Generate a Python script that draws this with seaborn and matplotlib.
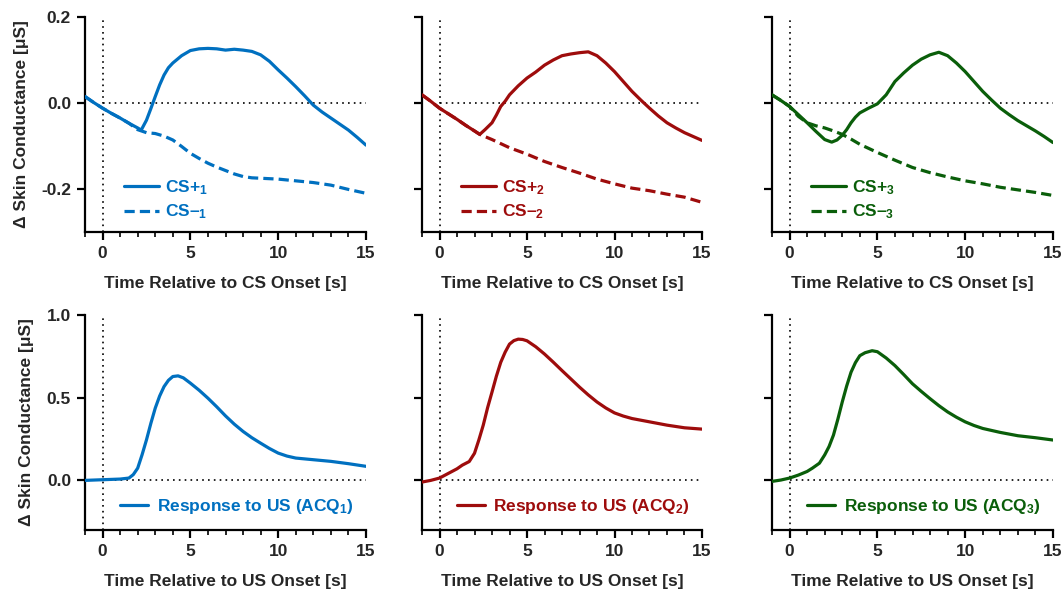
import numpy as np
import pandas as pd
import matplotlib
matplotlib.use("Agg")
import matplotlib.pyplot as plt
from matplotlib.ticker import MultipleLocator
import seaborn as sns

# ---------------- data ----------------
cs_plus1_x = [-1, -0.5, 0, 0.5, 1, 1.5, 2, 2.2, 2.5, 2.75, 3, 3.25, 3.5, 3.75, 4, 4.5, 5, 5.5, 6, 6.5,
              7, 7.5, 8, 8.5, 9, 9.5, 10, 10.5, 11, 11.5, 12, 12.5, 13, 13.5, 14, 14.5, 15]
cs_plus1_y = [0.015, 0.001, -0.012, -0.024, -0.035, -0.047, -0.058, -0.063, -0.040, -0.013,
              0.015, 0.042, 0.065, 0.082, 0.093, 0.110, 0.122, 0.126, 0.127, 0.126,
              0.123, 0.125, 0.123, 0.120, 0.112, 0.097, 0.077, 0.058, 0.038, 0.017,
              -0.005, -0.021, -0.035, -0.049, -0.063, -0.080, -0.098]
cs_minus1_x = [-1, -0.5, 0, 0.5, 1, 1.5, 2, 2.5, 3, 3.5, 4, 4.5, 5, 5.5, 6, 6.5, 7, 7.5, 8, 8.5,
               9, 10, 11, 12, 13, 14, 15]
cs_minus1_y = [0.015, 0.001, -0.012, -0.024, -0.035, -0.047, -0.062, -0.069, -0.071, -0.077,
               -0.086, -0.101, -0.117, -0.129, -0.140, -0.149, -0.157, -0.165, -0.171, -0.174,
               -0.175, -0.177, -0.181, -0.185, -0.191, -0.201, -0.210]

cs_plus2_x = [-1, -0.5, 0, 0.5, 1, 1.5, 2, 2.3, 2.6, 3, 3.25, 3.5, 3.75, 4, 4.5, 5, 5.5, 6, 6.5, 7,
              7.5, 8, 8.5, 9, 9.5, 10, 10.5, 11, 11.5, 12, 12.5, 13, 13.5, 14, 14.5, 15]
cs_plus2_y = [0.019, 0.004, -0.012, -0.025, -0.038, -0.052, -0.065, -0.073, -0.062, -0.046,
              -0.028, -0.008, 0.004, 0.019, 0.040, 0.058, 0.072, 0.088, 0.100, 0.110,
              0.114, 0.117, 0.119, 0.110, 0.093, 0.073, 0.050, 0.027, 0.007, -0.012,
              -0.030, -0.046, -0.058, -0.069, -0.078, -0.087]
cs_minus2_x = [-1, -0.5, 0, 0.5, 1, 1.5, 2, 2.3, 3, 4, 5, 6, 7, 8, 9, 10, 11, 12, 13, 14, 15]
cs_minus2_y = [0.019, 0.004, -0.012, -0.025, -0.038, -0.052, -0.065, -0.073, -0.085, -0.104,
               -0.119, -0.136, -0.150, -0.163, -0.177, -0.188, -0.198, -0.204, -0.212, -0.219, -0.231]

cs_plus3_x = [-1, -0.5, 0, 0.5, 1, 1.5, 2, 2.4, 2.7, 3, 3.25, 3.5, 3.75, 4, 4.5, 5, 5.5, 6, 6.5, 7,
              7.5, 8, 8.5, 9, 9.5, 10, 10.5, 11, 11.5, 12, 12.5, 13, 13.5, 14, 14.5, 15]
cs_plus3_y = [0.019, 0.006, -0.008, -0.027, -0.046, -0.066, -0.085, -0.091, -0.086, -0.075,
              -0.062, -0.046, -0.033, -0.023, -0.012, -0.002, 0.019, 0.050, 0.070, 0.088,
              0.102, 0.112, 0.118, 0.110, 0.093, 0.073, 0.050, 0.027, 0.007, -0.012,
              -0.027, -0.041, -0.053, -0.065, -0.078, -0.092]
cs_minus3_x = [-1, -0.5, 0, 0.5, 1, 1.5, 2, 2.5, 3, 3.5, 4, 5, 6, 7, 8, 9, 10, 11, 12, 13, 14, 15]
cs_minus3_y = [0.019, 0.006, -0.008, -0.031, -0.046, -0.053, -0.058, -0.065, -0.073, -0.084,
               -0.096, -0.115, -0.133, -0.150, -0.162, -0.172, -0.181, -0.188, -0.196, -0.202,
               -0.208, -0.215]

us1_x = [-1, 0, 1, 1.5, 1.75, 2, 2.25, 2.5, 2.75, 3, 3.25, 3.5, 3.75, 4, 4.3, 4.6, 5, 5.5, 6, 6.5,
         7, 7.5, 8, 8.5, 9, 9.5, 10, 10.5, 11, 12, 13, 14, 15]
us1_y = [0.0, 0.004, 0.008, 0.014, 0.035, 0.074, 0.155, 0.245, 0.345, 0.437,
         0.510, 0.567, 0.605, 0.628, 0.632, 0.620, 0.588, 0.545, 0.497, 0.445,
         0.390, 0.340, 0.296, 0.258, 0.225, 0.193, 0.165, 0.147, 0.135, 0.125,
         0.115, 0.101, 0.085]
us2_x = [-1, -0.5, 0, 0.5, 1, 1.3, 1.7, 2, 2.25, 2.5, 2.75, 3, 3.25, 3.5, 3.75, 4, 4.25, 4.5, 4.75, 5,
         5.5, 6, 6.5, 7, 7.5, 8, 8.5, 9, 9.5, 10, 10.5, 11, 12, 13, 14, 15]
us2_y = [-0.010, 0.0, 0.014, 0.042, 0.070, 0.092, 0.114, 0.164, 0.245, 0.334,
         0.440, 0.534, 0.630, 0.714, 0.775, 0.824, 0.845, 0.854, 0.852, 0.844,
         0.808, 0.764, 0.715, 0.664, 0.614, 0.564, 0.517, 0.474, 0.438, 0.408,
         0.389, 0.374, 0.354, 0.334, 0.318, 0.310]
us3_x = [-1, -0.5, 0, 0.5, 1, 1.3, 1.7, 2, 2.25, 2.5, 2.75, 3, 3.25, 3.5, 3.75, 4, 4.3, 4.7, 5, 5.5,
         6, 6.5, 7, 7.5, 8, 8.5, 9, 9.5, 10, 10.5, 11, 12, 13, 14, 15]
us3_y = [-0.006, 0.002, 0.014, 0.032, 0.054, 0.074, 0.104, 0.154, 0.205, 0.274,
         0.370, 0.474, 0.570, 0.654, 0.712, 0.754, 0.772, 0.784, 0.778, 0.740,
         0.694, 0.640, 0.584, 0.538, 0.494, 0.452, 0.414, 0.382, 0.354, 0.332,
         0.314, 0.290, 0.270, 0.258, 0.244]

colors = ["#0070C0", "#9E0C0C", "#0A5E0A"]
top_labels = [("CS+$_{\\mathbf{1}}$", "CS\u2013$_{\\mathbf{1}}$"),
              ("CS+$_{\\mathbf{2}}$", "CS\u2013$_{\\mathbf{2}}$"),
              ("CS+$_{\\mathbf{3}}$", "CS\u2013$_{\\mathbf{3}}$")]
bottom_labels = ["Response to US (ACQ$_{\\mathbf{1}}$)",
                 "Response to US (ACQ$_{\\mathbf{2}}$)",
                 "Response to US (ACQ$_{\\mathbf{3}}$)"]
top_xlabel = "Time Relative to CS Onset [s]"
bottom_xlabel = "Time Relative to US Onset [s]"
ylabel = "\u0394 Skin Conductance [\u03bcS]"

# ---------------- style ----------------
sns.set_style("ticks")
plt.rcParams["font.family"] = ["Liberation Sans", "DejaVu Sans"]
plt.rcParams["font.weight"] = "bold"
plt.rcParams["axes.labelweight"] = "bold"
plt.rcParams["mathtext.fontset"] = "custom"
plt.rcParams["mathtext.rm"] = "Liberation Sans:bold"
plt.rcParams["mathtext.bf"] = "Liberation Sans:bold"
plt.rcParams["mathtext.it"] = "Liberation Sans:bold"
plt.rcParams["lines.solid_joinstyle"] = "round"
plt.rcParams["lines.dash_joinstyle"] = "round"

fig = plt.figure(figsize=(10.63, 5.90), dpi=100)
W, H = 1063, 590
lefts = [85, 422, 772]
widths = [281, 280, 281]
tops = [17, 315]
bottoms = [232, 530]

top_sets = [(cs_plus1_x, cs_plus1_y, cs_minus1_x, cs_minus1_y),
            (cs_plus2_x, cs_plus2_y, cs_minus2_x, cs_minus2_y),
            (cs_plus3_x, cs_plus3_y, cs_minus3_x, cs_minus3_y)]
bottom_sets = [(us1_x, us1_y), (us2_x, us2_y), (us3_x, us3_y)]

fs = 12.5
lw = 2.3

def style_axis(ax, ylim, yticks, show_ylabels):
    ax.set_xlim(-1, 15)
    ax.set_ylim(*ylim)
    ax.set_xticks([0, 5, 10, 15])
    ax.xaxis.set_minor_locator(MultipleLocator(1))
    ax.set_yticks(yticks)
    sns.despine(ax=ax)
    for s in ["left", "bottom"]:
        ax.spines[s].set_linewidth(1.6)
        ax.spines[s].set_color("black")
    ax.tick_params(axis="both", which="major", length=6, width=1.6, labelsize=fs,
                   direction="out", color="black", pad=4)
    ax.tick_params(axis="x", which="minor", length=3.5, width=1.2, color="black")
    ax.axvline(0, color="black", lw=1.2, ls=(0, (1, 2.5)), zorder=1)
    ax.plot([0, 15], [0, 0], color="black", lw=1.2, ls=(0, (1, 2.5)), zorder=1)
    for lab in ax.get_xticklabels() + ax.get_yticklabels():
        lab.set_fontweight("bold")
    if not show_ylabels:
        ax.set_yticklabels([])

for i in range(3):
    # top row
    ax = fig.add_axes([lefts[i] / W, 1 - bottoms[0] / H, widths[i] / W, (bottoms[0] - tops[0]) / H])
    px, py, mx, my = top_sets[i]
    dfp = pd.DataFrame({"x": px, "y": py})
    dfm = pd.DataFrame({"x": mx, "y": my})
    sns.lineplot(data=dfm, x="x", y="y", ax=ax, color=colors[i], lw=lw,
                 label=top_labels[i][1], zorder=3)
    ax.lines[-1].set_dashes([3.2, 1.6])
    sns.lineplot(data=dfp, x="x", y="y", ax=ax, color=colors[i], lw=lw, label=top_labels[i][0], zorder=4)
    style_axis(ax, (-0.3, 0.2), [-0.2, 0.0, 0.2], i == 0)
    if i == 0:
        ax.set_yticklabels(["-0.2", "0.0", "0.2"])
        ax.set_ylabel(ylabel, fontsize=fs, fontweight="bold", labelpad=9)
    else:
        ax.set_ylabel("")
    ax.set_xlabel(top_xlabel, fontsize=fs, fontweight="bold", labelpad=11)
    handles, labels = ax.get_legend_handles_labels()
    leg = ax.legend(handles[::-1], labels[::-1], loc="center left",
                    bbox_to_anchor=(0.14, 0.15), frameon=False,
                    fontsize=fs, handlelength=2.0, handletextpad=0.35, labelspacing=0.35,
                    borderpad=0, borderaxespad=0)
    for t in leg.get_texts():
        t.set_color(colors[i])
        t.set_fontweight("bold")

    # bottom row
    ax = fig.add_axes([lefts[i] / W, 1 - bottoms[1] / H, widths[i] / W, (bottoms[1] - tops[1]) / H])
    ux, uy = bottom_sets[i]
    dfu = pd.DataFrame({"x": ux, "y": uy})
    sns.lineplot(data=dfu, x="x", y="y", ax=ax, color=colors[i], lw=lw, label=bottom_labels[i], zorder=4)
    style_axis(ax, (-0.3, 1.0), [0.0, 0.5, 1.0], i == 0)
    if i == 0:
        ax.set_yticklabels(["0.0", "0.5", "1.0"])
        ax.set_ylabel(ylabel, fontsize=fs, fontweight="bold", labelpad=9)
    else:
        ax.set_ylabel("")
    ax.set_xlabel(bottom_xlabel, fontsize=fs, fontweight="bold", labelpad=11)
    leg = ax.legend(loc="center left", bbox_to_anchor=(0.125, 0.107), frameon=False,
                    fontsize=fs, handlelength=1.6, handletextpad=0.5,
                    borderpad=0, borderaxespad=0)
    for t in leg.get_texts():
        t.set_color(colors[i])
        t.set_fontweight("bold")

fig.savefig("out.png", dpi=100)
